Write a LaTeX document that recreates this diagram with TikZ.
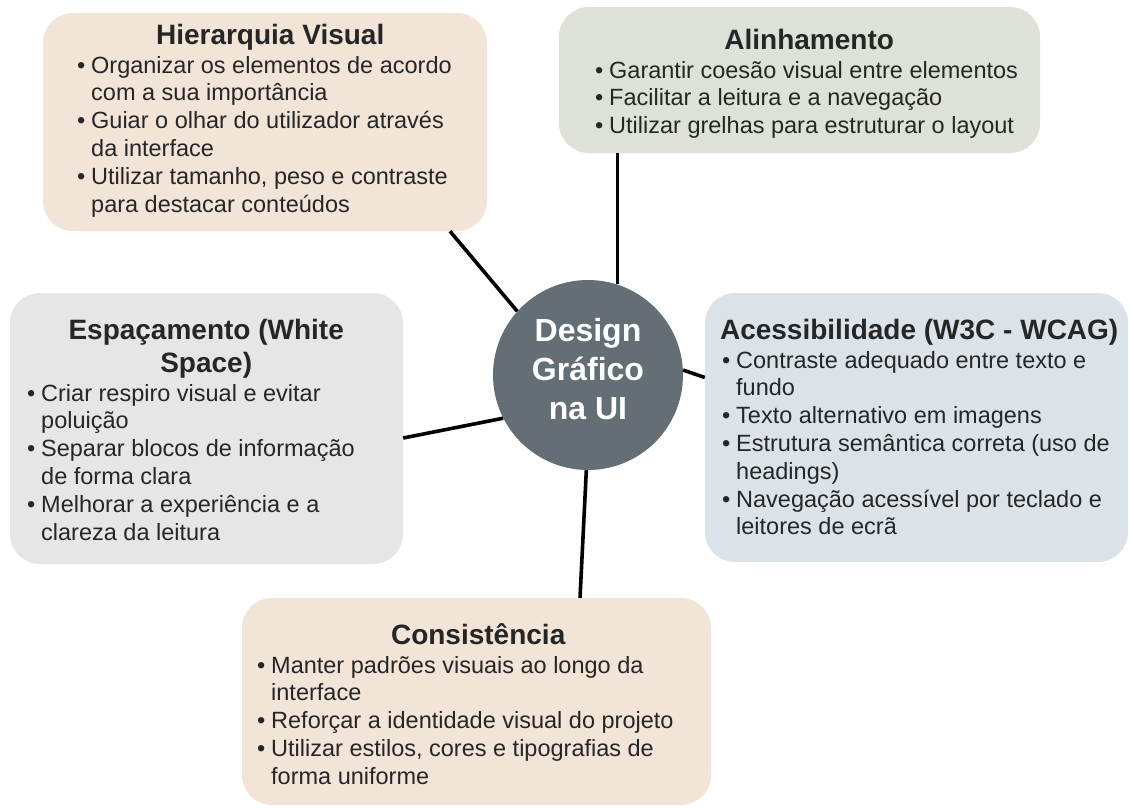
\documentclass[tikz,border=0pt]{standalone}
\usepackage{fontspec}
\setmainfont{Liberation Sans}
\usetikzlibrary{backgrounds}
\definecolor{peach}{HTML}{F2E4D7}
\definecolor{sage}{HTML}{DCE2D8}
\definecolor{lgray}{HTML}{E6E6E6}
\definecolor{lblue}{HTML}{DCE3E8}
\definecolor{slate}{HTML}{646E75}
\definecolor{ink}{HTML}{262626}
\newcommand{\bul}[1]{\par\noindent\hangindent=14pt\hangafter=1\makebox[14pt][l]{\textbullet}#1}
\newcommand{\ttl}[1]{\makebox[\linewidth][c]{#1}}
\newcommand{\boxtext}[3]{%
\begin{minipage}[t]{#1}\raggedright
{\fontsize{28}{33}\selectfont\bfseries #2\par}
\fontsize{23.5}{27.8}\selectfont\vspace{1.2pt}#3\par
\end{minipage}}
\tikzset{
  card/.style={rounded corners=30pt, inner sep=0pt, draw=none},
  cardtext/.style={anchor=base west, inner sep=0pt, text=ink},
  hub/.style={circle, fill=slate, minimum size=190pt, inner sep=0pt},
  hubtext/.style={text=white, align=center, inner sep=0pt,
    font=\fontsize{32}{39}\selectfont\bfseries},
  link/.style={line width=3.6pt, black}
}
\begin{document}
\begin{tikzpicture}[x=1pt,y=-1pt]
\useasboundingbox[fill=white] (0,0) rectangle (1130,807);
% boxes
\node[card, fill=peach, minimum width=444pt, minimum height=218pt] (hier) at (265,122) {};
\node[card, fill=sage, minimum width=481pt, minimum height=146pt] (alin) at (799.5,80) {};
\node[card, fill=lgray, minimum width=393pt, minimum height=271pt] (esp) at (206.5,428.5) {};
\node[card, fill=lblue, minimum width=423pt, minimum height=269pt] (aces) at (916.5,427.5) {};
\node[card, fill=peach, minimum width=469pt, minimum height=207pt] (cons) at (476.5,701.5) {};
% hub
\node[hub] (ctr) at (588,375) {};
\node[hubtext] (ctrT) at (588,369) {Design\\Gráfico\\na UI};
% connectors
\draw[link] (ctr.138) -- ([xshift=185pt]hier.south);
\draw[link] (ctr.72) -- (ctr.72 |- alin.south);
\draw[link] (ctr.3) -- ([yshift=50pt]aces.west);
\draw[link] (ctr.207) -- ([yshift=-9.5pt]esp.east);
\draw[link] (ctr.269) -- ([xshift=103.5pt]cons.north);
% texts
\node[cardtext] (hierT) at (77,44) {\boxtext{386pt}{\ttl{Hierarquia Visual}}{%
\bul{Organizar os elementos de acordo\newline com a sua importância}
\bul{Guiar o olhar do utilizador através\newline da interface}
\bul{Utilizar tamanho, peso e contraste\newline para destacar conteúdos}}};
\node[cardtext] (alinT) at (595,49) {\boxtext{428pt}{\ttl{Alinhamento}}{%
\bul{Garantir coesão visual entre elementos}
\bul{Facilitar a leitura e a navegação}
\bul{Utilizar grelhas para estruturar o layout}}};
\node[cardtext] (espT) at (27,339) {\boxtext{358pt}{\ttl{Espaçamento (White}\par\ttl{Space)}}{%
\bul{Criar respiro visual e evitar\newline poluição}
\bul{Separar blocos de informação\newline de forma clara}
\bul{Melhorar a experiência e a\newline clareza da leitura}}};
\node[cardtext] (acesT) at (722,339) {\boxtext{394pt}{\ttl{Acessibilidade (W3C - WCAG)}}{%
\bul{Contraste adequado entre texto e\newline fundo}
\bul{Texto alternativo em imagens}
\bul{Estrutura semântica correta (uso de\newline headings)}
\bul{Navegação acessível por teclado e\newline leitores de ecrã}}};
\node[cardtext] (consT) at (257,644) {\boxtext{442pt}{\ttl{Consistência}}{%
\bul{Manter padrões visuais ao longo da\newline interface}
\bul{Reforçar a identidade visual do projeto}
\bul{Utilizar estilos, cores e tipografias de\newline forma uniforme}}};
\end{tikzpicture}
\end{document}
